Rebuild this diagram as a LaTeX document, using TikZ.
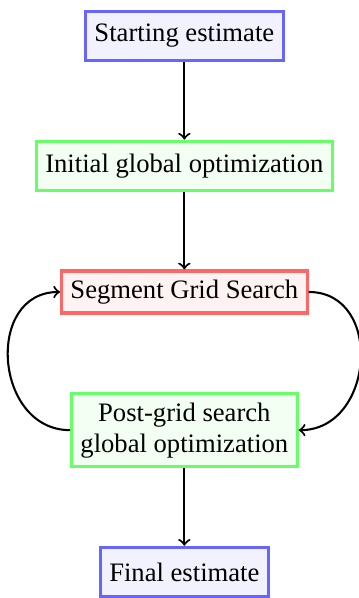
\documentclass[tikz,border=0pt]{standalone}
\usepackage{fontspec}
\setmainfont{Liberation Serif}[Scale=1.03]
\usepackage{tikz}
\usetikzlibrary{positioning}
\tikzset{
    blue-box/.style = {draw=blue!60, fill=blue!5, very thick, rectangle, minimum height=19pt},
    green-box/.style = {draw=green!60, fill=green!5, very thick, rectangle, minimum height=19pt, align=center},
    red-box/.style = {draw=red!60, fill=red!5, very thick, rectangle},
    flow/.style = {->, thick},
}

\begin{document}
\begin{tikzpicture}[node distance=30pt]
\node[blue-box] (start) {Starting estimate};
\node[green-box, below=of start] (initopt) {Initial global optimization};
\node[red-box, below=of initopt] (grid) {Segment Grid Search};
\node[green-box, below=of grid] (postopt) {Post-grid search\\global optimization};
\node[blue-box, below=of postopt] (final) {Final estimate};

\draw[flow] (start) -- (initopt);
\draw[flow] (initopt) -- (grid);
\draw[flow] (postopt) -- (final);
% loop between grid search and optimization
\draw[flow] (grid.east) to[out=0, in=0, looseness=1.4] (postopt.east);
\draw[flow] (postopt.west) to[out=180, in=180, looseness=1.4] (grid.west);

\pgfresetboundingbox
\useasboundingbox ([shift={(-71.3pt,3.8pt)}]start.north) rectangle ([xshift=67.4pt]final.south);
\end{tikzpicture}
\end{document}
